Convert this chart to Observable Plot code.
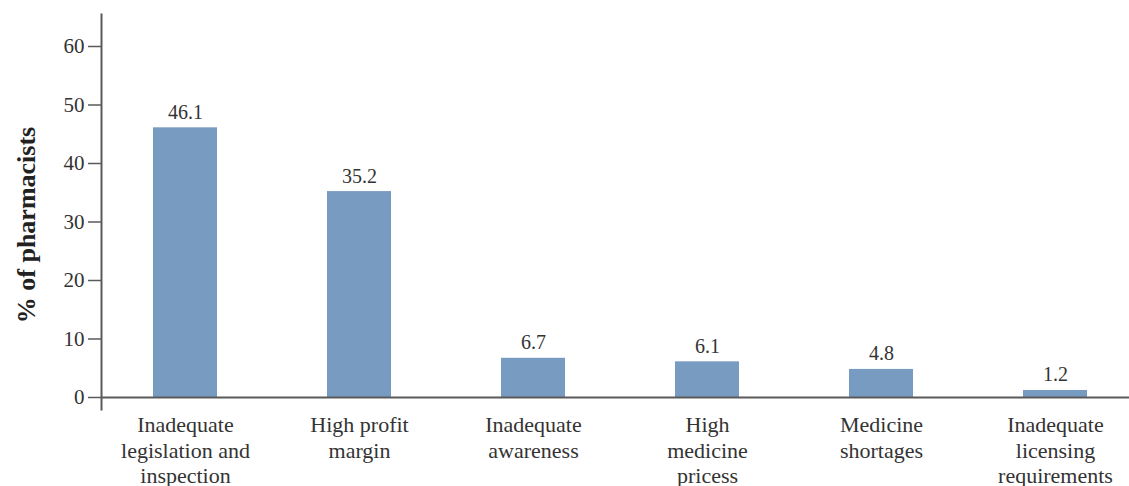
<!DOCTYPE html>
<html>
<head>
<meta charset="utf-8">
<script src="https://cdn.jsdelivr.net/npm/d3@7"></script>
<script src="https://cdn.jsdelivr.net/npm/@observablehq/plot@0.6"></script>
<style>
  html, body { margin: 0; padding: 0; background: #fff; }
  #chart svg { font-family: "Liberation Serif", "DejaVu Serif", serif; }
</style>
</head>
<body>
<div id="chart"></div>
<script>
const categories = [
  "Inadequate\nlegislation and\ninspection",
  "High profit\nmargin",
  "Inadequate\nawareness",
  "High\nmedicine\npricess",
  "Medicine\nshortages",
  "Inadequate\nlicensing\nrequirements"
];
const values = [46.1, 35.2, 6.7, 6.1, 4.8, 1.2];
const yTicks = [0, 10, 20, 30, 40, 50, 60];
const yLabel = "% of pharmacists";

const data = categories.map((c, i) => ({category: c, value: values[i]}));

const chart = Plot.plot({
  width: 1129,
  height: 486,
  marginLeft: 101,
  marginRight: 0,
  marginTop: 14,
  marginBottom: 77,
  style: {fontSize: "22px", color: "#333", background: "#fff"},
  x: {
    domain: categories,
    range: [96.8, 1143.2],
    paddingInner: 0.633,
    paddingOuter: 0.3165,
    label: null
  },
  y: {
    domain: [0, 60],
    range: [397, 46],
    label: null
  },
  marks: [
    Plot.barY(data, {x: "category", y: "value", fill: "#789bc2"}),
    Plot.text(data, {x: "category", y: "value", text: d => d.value.toFixed(1), dy: -9, lineAnchor: "bottom", fill: "#333", fontSize: 20}),
    Plot.ruleY([0], {stroke: "#5a5a5a", strokeWidth: 2}),
    Plot.frame({anchor: "left", stroke: "#5a5a5a", strokeWidth: 2}),
    Plot.axisY({ticks: yTicks, tickSize: 13, tickPadding: 4, stroke: "#5a5a5a", strokeWidth: 1.5, label: null, fill: "#333", fontSize: 21}),
    Plot.axisX({tickSize: 0, tickPadding: 4, lineHeight: 1.17, label: null, fill: "#333"}),
    Plot.text([yLabel], {frameAnchor: "left", textAnchor: "middle", rotate: -90, dx: -75, dy: 13, fontWeight: "bold", fontSize: 26, fill: "#222"})
  ]
});
document.getElementById("chart").appendChild(chart);
</script>
</body>
</html>
